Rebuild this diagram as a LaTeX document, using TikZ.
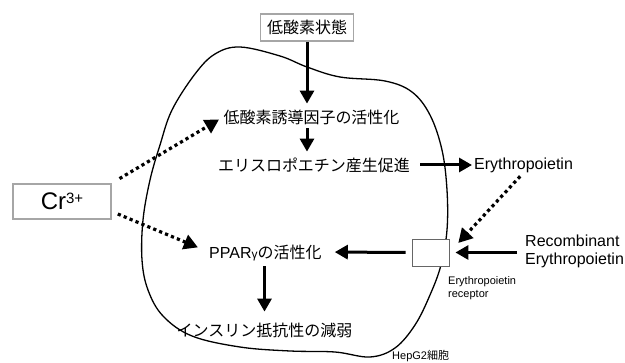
\documentclass[tikz,border=0pt]{standalone}
\usepackage{fontspec}
\setmainfont{Liberation Sans}
\newfontfamily\jp{Noto Sans CJK JP}
\usetikzlibrary{arrows.meta}
\begin{document}
\begin{tikzpicture}[x=1pt,y=-1pt,
  jt/.style={font=\jp\fontsize{16}{19}\selectfont, inner sep=0pt, text height=13.3pt, text depth=1.1pt},
  lt/.style={font=\fontsize{16}{18}\selectfont, inner sep=0pt, text height=11.5pt, text depth=3.4pt},
  gbox/.style={draw=black!35, line width=1.6pt, inner sep=0pt},
  arr/.style={line width=3pt, -{Triangle[length=13pt,width=14pt]}},
  dotarr/.style={line width=3.2pt, dash pattern=on 3.2pt off 3.2pt, -{Triangle[length=14pt,width=15pt]}},
  cell/.style={line width=1.3pt, black}]
\useasboundingbox (0,0) rectangle (625,363);
% cell outline
\draw[cell] plot[smooth cycle, tension=0.6] coordinates {
 (240,47) (280,56) (307,67) (340,77) (385,81) (412,92) (430,115) (442,150)
 (447,190) (447,230) (441,265) (430,295) (415,325) (395,348) (370,357) (335,352)
 (290,351) (240,347) (192,336) (163,316) (148,290) (142,260) (143,220) (150,180)
 (160,145) (172,110) (195,74) (215,54)};
% nodes
\node[gbox, minimum width=93pt, minimum height=27pt, font=\jp\fontsize{16}{19}\selectfont] (hyp) at (307,27.5) {低酸素状態};
\node[jt] (hif) at (311.5,117) {低酸素誘導因子の活性化};
\node[jt] (prod) at (314,165) {エリスロポエチン産生促進};
\node[lt, anchor=west] (epo) at (474,165) {Erythropoietin};
\node[draw=black!60, line width=0.9pt, fill=white, minimum width=37pt, minimum height=27pt, inner sep=0pt] (rec) at (430.5,252.5) {};
\node[font=\fontsize{16}{18}\selectfont, align=left, inner sep=0pt, anchor=west] (recomb) at (525,251) {Recombinant\\Erythropoietin};
\node[font=\fontsize{11}{13}\selectfont, align=left, inner sep=0pt, anchor=north west] (reclab) at (448,276) {Erythropoietin\\receptor};
\node[jt, anchor=west] (ppar) at (209,252) {\rmfamily PPAR{\fontsize{12}{14}\selectfont γ}\jp の活性化};
\node[jt] (ins) at (264.5,330) {インスリン抵抗性の減弱};
\node[gbox, minimum width=98pt, minimum height=35pt] (cr) at (62,201.5) {\fontsize{24}{26}\selectfont Cr\raisebox{6.5pt}{\fontsize{15}{16}\selectfont 3+}};
\node[font=\fontsize{11}{13}\selectfont, inner sep=0pt, anchor=base west] (hep) at (392,359.5) {HepG2{\jp 細胞}};
% connectors
\draw[arr, shorten >=6pt] (hyp.south) -- (hyp.south |- hif.north);
\draw[arr, shorten <=4pt, shorten >=6pt] (hif.south -| hyp.south) -- (prod.north -| hyp.south);
\draw[arr, shorten <=10pt, shorten >=2pt] (prod.east) -- (epo.west);
\draw[arr, shorten <=6pt, shorten >=13pt] (rec.west) -- (ppar.east);
\draw[arr, shorten <=8pt, shorten >=6pt] (recomb.west |- rec.east) -- (rec.east);
\draw[arr, shorten <=7pt, shorten >=11pt] (ins.north |- ppar.south) -- (ins.north);
\draw[dotarr, shorten <=9pt, shorten >=5pt] (cr.north east) -- (hif.west);
\draw[dotarr, shorten <=6.5pt, shorten >=12pt] ([yshift=-10pt]cr.east) -- (ppar.west);
\draw[dotarr, shorten <=5pt, shorten >=13pt] (epo.south) -- (rec.east);
\end{tikzpicture}
\end{document}
